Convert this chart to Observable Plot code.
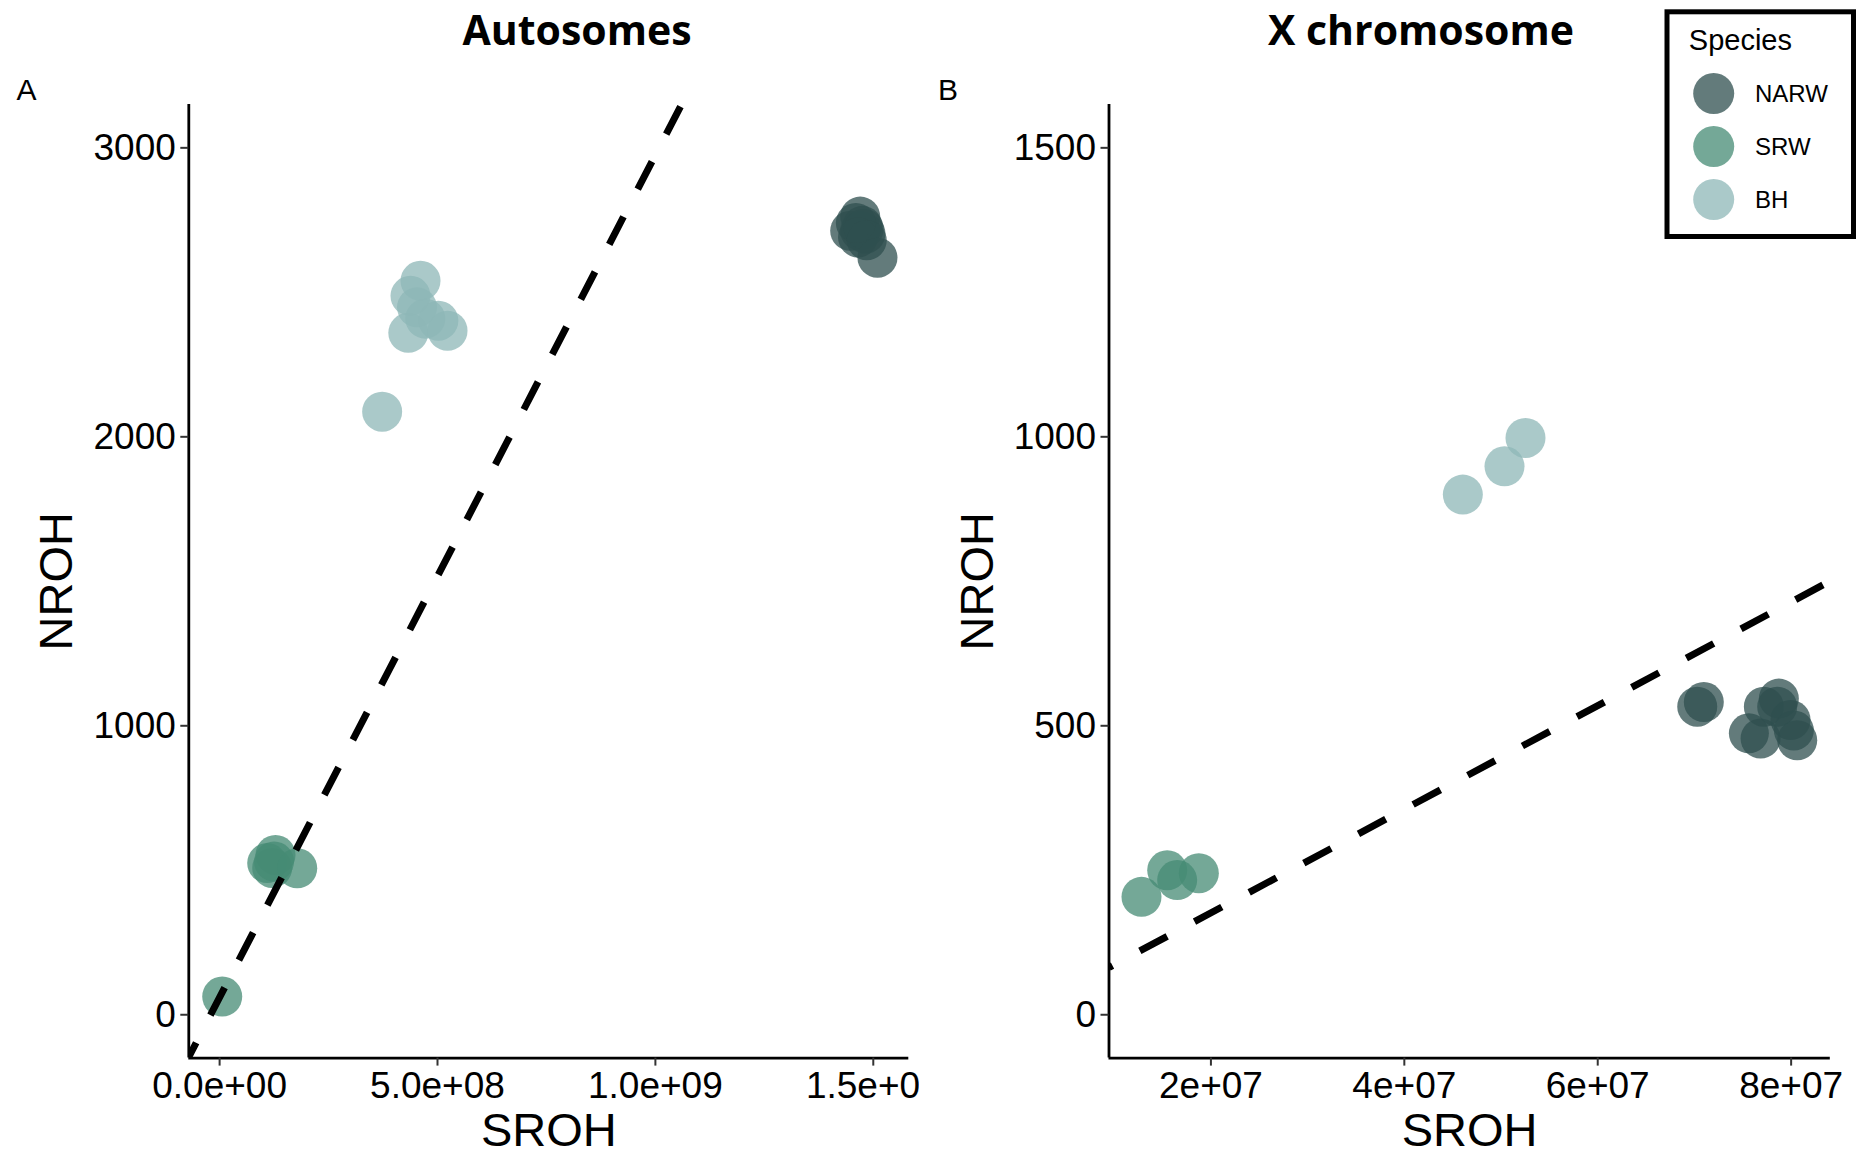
<!DOCTYPE html>
<html><head><meta charset="utf-8">
<script src="https://cdn.jsdelivr.net/npm/d3@7"></script>
<script src="https://cdn.jsdelivr.net/npm/@observablehq/plot@0.6"></script>
<style>
body{margin:0;background:#fff;}
#root{position:relative;width:1857px;height:1154px;overflow:hidden;background:#fff;}
#root svg{position:absolute;top:0;}
</style></head><body><div id="root"></div>
<script>
// ---------- data ----------
const species = ["NARW", "SRW", "BH"];
const speciesColors = ["#2F4F4F", "#458B74", "#8DB7B7"];

// Autosomes (panel A)
const autoNARW_SROH = [1.447e9, 1.470e9, 1.482e9, 1.470e9, 1.475e9, 1.465e9, 1.478e9, 1.460e9, 1.485e9, 1.5096e9];
const autoNARW_NROH = [2713, 2713, 2703, 2762, 2730, 2690, 2720, 2740, 2680, 2620];
const autoSRW_SROH = [0.06e8, 1.092e8, 1.207e8, 1.283e8, 1.25e8, 1.781e8];
const autoSRW_NROH = [63, 525, 508, 553, 530, 507];
const autoBH_SROH = [3.73e8, 4.33e8, 4.38e8, 4.53e8, 4.61e8, 4.72e8, 5.02e8, 5.23e8];
const autoBH_NROH = [2087, 2360, 2488, 2448, 2540, 2409, 2402, 2367];

// X chromosome (panel B)
const xNARW_SROH = [7.029e7, 7.097e7, 7.563e7, 7.684e7, 7.718e7, 7.873e7, 7.856e7, 7.994e7, 8.028e7, 8.063e7];
const xNARW_NROH = [533, 541, 487, 478, 533, 547, 533, 510, 492, 475];
const xSRW_SROH = [1.282e7, 1.548e7, 1.651e7, 1.875e7];
const xSRW_NROH = [204, 250, 233, 245];
const xBH_SROH = [4.605e7, 5.036e7, 5.253e7];
const xBH_NROH = [900, 949, 998];

// reference lines (slope, intercept)
const autoLine = {slope: 2.915e-6, intercept: 60};
const xLine = {slope: 8.965e-6, intercept: -3};

// axes
const autoXDomain = [-7.07e7, 1.5815e9];
const autoYDomain = [-150, 3150];
const xXDomain = [0.946e7, 8.405e7];
const xYDomain = [-75, 1575];
const autoXTicks = [0, 5e8, 1e9, 1.5e9];
const autoXLabels = ["0.0e+00", "5.0e+08", "1.0e+09", "1.5e+09"];
const autoYTicks = [0, 1000, 2000, 3000];
const xXTicks = [2e7, 4e7, 6e7, 8e7];
const xXLabels = ["2e+07", "4e+07", "6e+07", "8e+07"];
const xYTicks = [0, 500, 1000, 1500];

const titles = ["Autosomes", "X chromosome"];
const panelLetters = ["A", "B"];

// ---------- build ----------
function rows(sp, xs, ys) { return xs.map((x, i) => ({species: sp, sroh: x, nroh: ys[i]})); }
const autoData = [
  ...rows("BH", autoBH_SROH, autoBH_NROH),
  ...rows("SRW", autoSRW_SROH, autoSRW_NROH),
  ...rows("NARW", autoNARW_SROH, autoNARW_NROH)
];
const xData = [
  ...rows("BH", xBH_SROH, xBH_NROH),
  ...rows("SRW", xSRW_SROH, xSRW_NROH),
  ...rows("NARW", xNARW_SROH, xNARW_NROH)
];

const FONT = '"Liberation Sans", Arial, Helvetica, sans-serif';

function panel(o) {
  const lineData = o.xDomain.map(x => ({x, y: o.line.intercept + o.line.slope * x}));
  return Plot.plot({
    width: o.width, height: 1154,
    marginLeft: o.ml, marginRight: o.mr, marginTop: 104, marginBottom: 96.4,
    style: {fontFamily: FONT, fontSize: "37px", color: "black", background: "white", overflow: "hidden"},
    x: {domain: o.xDomain},
    y: {domain: o.yDomain},
    color: {domain: species, range: speciesColors},
    marks: [
      Plot.dot(o.data, {x: "sroh", y: "nroh", fill: "species", r: 20, fillOpacity: 0.75}),
      Plot.line(lineData, {x: "x", y: "y", stroke: "black", strokeWidth: 7, strokeDasharray: "31,31",
        strokeDashoffset: o.dashOffset, strokeLinecap: "butt", clip: true}),
      Plot.ruleX([o.xDomain[0]], {stroke: "black", strokeWidth: 2.8}),
      Plot.ruleY([o.yDomain[0]], {stroke: "black", strokeWidth: 2.8}),
      Plot.axisX({ticks: o.xTicks, tickFormat: d => o.xLabels[o.xTicks.indexOf(d)], tickSize: 8, tickPadding: 6,
        fontSize: 37, fontFamily: FONT, label: null, strokeWidth: 2, stroke: "#333"}),
      Plot.axisY({ticks: o.yTicks, tickFormat: d => String(d), tickSize: 8, tickPadding: 5,
        fontSize: 37, fontFamily: FONT, label: null, strokeWidth: 2, stroke: "#333"}),
      Plot.text(["SROH"], {text: d => d, frameAnchor: "bottom", dy: 73, lineAnchor: "middle", textAnchor: "middle",
        fontSize: 47, fontFamily: FONT}),
      Plot.text(["NROH"], {text: d => d, frameAnchor: "left", dx: o.yTitleDx, rotate: -90, lineAnchor: "middle",
        textAnchor: "middle", fontSize: 47, fontFamily: FONT})
    ]
  });
}

const root = document.getElementById("root");
const pA = panel({data: autoData, width: 919, ml: 188.3, mr: 10.7, xDomain: autoXDomain, yDomain: autoYDomain,
  xTicks: autoXTicks, xLabels: autoXLabels, yTicks: autoYTicks, line: autoLine, dashOffset: 15, yTitleDx: -132});
pA.style.left = "0px";
root.appendChild(pA);
const pB = panel({data: xData, width: 938, ml: 189.5, mr: 27.2, xDomain: xXDomain, yDomain: xYDomain,
  xTicks: xXTicks, xLabels: xXLabels, yTicks: xYTicks, line: xLine, dashOffset: 27, yTitleDx: -131.5});
pB.style.left = "919px";
root.appendChild(pB);

// overlay: titles, panel letters, legend
const ov = d3.create("svg").attr("width", 1857).attr("height", 1154).style("left", "0px")
  .style("pointer-events", "none").style("overflow", "visible");
const titleX = [577, 1421];
ov.selectAll("text.title").data(titles).join("text").attr("class", "title")
  .attr("x", (d, i) => titleX[i]).attr("y", 45).attr("text-anchor", "middle")
  .attr("font-family", '"Open Sans", sans-serif').attr("font-weight", "bold").attr("font-size", 41)
  .text(d => d);
const letterX = [16.6, 938];
ov.selectAll("text.letter").data(panelLetters).join("text").attr("class", "letter")
  .attr("x", (d, i) => letterX[i]).attr("y", 99.5)
  .attr("font-family", FONT).attr("font-size", 30).text(d => d);

const lg = ov.append("g");
lg.append("rect").attr("x", 1667).attr("y", 11.8).attr("width", 186.5).attr("height", 224.7)
  .attr("fill", "white").attr("stroke", "black").attr("stroke-width", 5);
lg.append("text").attr("x", 1688.8).attr("y", 50).attr("font-family", FONT).attr("font-size", 29).text("Species");
const keyY = [93.5, 146.5, 199.5];
species.forEach((s, i) => {
  lg.append("circle").attr("cx", 1713.7).attr("cy", keyY[i]).attr("r", 20.5)
    .attr("fill", speciesColors[i]).attr("fill-opacity", 0.75);
  lg.append("text").attr("x", 1755).attr("y", keyY[i] + 8.6).attr("font-family", FONT)
    .attr("font-size", 24).text(s);
});
root.appendChild(ov.node());
</script>
</body></html>
